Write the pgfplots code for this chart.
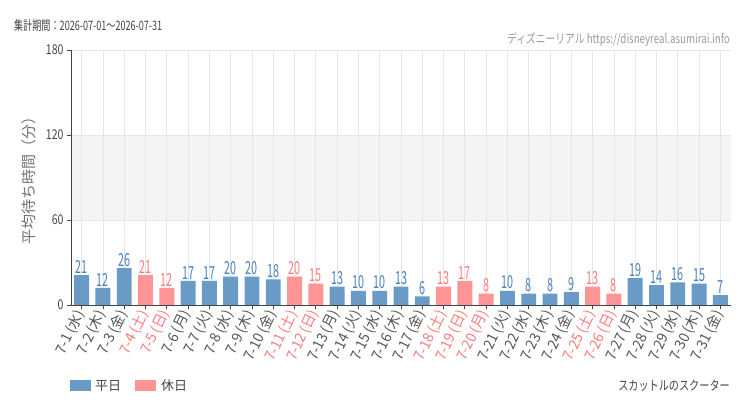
\documentclass[border=0pt]{standalone}
\usepackage{fontspec}
\setmainfont{Noto Sans CJK JP}
\newfontfamily\cond{Noto Sans CJK JP}[FakeStretch=0.78]
\newfontfamily\condh{Noto Sans CJK JP}[FakeStretch=0.70]
\newfontfamily\condx{Noto Sans CJK JP}[FakeStretch=0.95]
\newfontfamily\condv{Noto Sans CJK JP}[FakeStretch=0.60]
\usepackage{pgfplots}
\pgfplotsset{compat=1.18}
\definecolor{wkbar}{HTML}{6A9AC6}
\definecolor{hobar}{HTML}{FF9496}
\definecolor{wktxt}{HTML}{4A80BA}
\definecolor{hotxt}{HTML}{FF7A7A}
\definecolor{gridc}{HTML}{E6E6E6}
\definecolor{bandc}{HTML}{F4F4F4}
\definecolor{txtc}{HTML}{444444}
\definecolor{labc}{HTML}{555555}
\definecolor{lightc}{HTML}{999999}

% weekday and holiday values (x = day index 0..30)
\pgfplotstableread{
x y
0 21
1 12
2 26
5 17
6 17
7 20
8 20
9 18
12 13
13 10
14 10
15 13
16 6
20 10
21 8
22 8
23 9
26 19
27 14
28 16
29 15
30 7
}\weekday
\pgfplotstableread{
x y
3 21
4 12
10 20
11 15
17 13
18 17
19 8
24 13
25 8
}\holiday

\begin{document}
\begin{tikzpicture}[x=1pt,y=1pt]
\begin{axis}[
  set layers,
  at={(71pt,105pt)}, anchor=south west,
  width=660pt, height=255pt, scale only axis,
  xmin=-0.5, xmax=30.5,
  ymin=0, ymax=180,
  ytick={0,60,120,180},
  xtick={0,...,30},
  xticklabels={7-1 (水),7-2 (木),7-3 (金),\textcolor{hotxt}{7-4 (土)},\textcolor{hotxt}{7-5 (日)},7-6 (月),7-7 (火),7-8 (水),7-9 (木),7-10 (金),\textcolor{hotxt}{7-11 (土)},\textcolor{hotxt}{7-12 (日)},7-13 (月),7-14 (火),7-15 (水),7-16 (木),7-17 (金),\textcolor{hotxt}{7-18 (土)},\textcolor{hotxt}{7-19 (日)},\textcolor{hotxt}{7-20 (月)},7-21 (火),7-22 (水),7-23 (木),7-24 (金),\textcolor{hotxt}{7-25 (土)},\textcolor{hotxt}{7-26 (日)},7-27 (月),7-28 (火),7-29 (水),7-30 (木),7-31 (金)},
  xticklabel style={font=\condx\fontsize{14.5}{16}\selectfont, text=labc, rotate=64, anchor=east, inner sep=2.5pt},
  yticklabel style={font=\cond\fontsize{13.5}{15}\selectfont, text=txtc},
  /pgf/number format/assume math mode=true,
  axis x line*=bottom, axis y line*=left,
  axis line style={draw=txtc, line width=0.8pt},
  tick style={draw=txtc, line width=0.8pt},
  tick align=outside, major tick length=4pt,
  grid=major, grid style={draw=gridc, line width=0.8pt},
  ylabel={平均待ち時間（分）},
  ylabel style={font=\fontsize{15}{17}\selectfont, text=lightc!75!black, yshift=3pt},
  clip=false,
]
\addplot[fill=bandc, draw=none, on layer=axis background] coordinates {(-0.5,60) (30.5,60) (30.5,120) (-0.5,120) (-0.5,60)};
\addplot[ybar, bar width=0.7, fill=wkbar, draw=none,
  nodes near coords, nodes near coords style={font=\condv\fontsize{18}{20}\selectfont, text=wktxt, anchor=south, inner sep=1.5pt}] table[x=x,y=y] {\weekday};
\addplot[ybar, bar width=0.7, fill=hobar, draw=none,
  nodes near coords, nodes near coords style={font=\condv\fontsize{18}{20}\selectfont, text=hotxt, anchor=south, inner sep=1.5pt}] table[x=x,y=y] {\holiday};
\end{axis}
\node[anchor=west, text=txtc, font=\condh\fontsize{13}{15}\selectfont, inner sep=0pt] at (14,384) {集計期間：2026-07-01〜2026-07-31};
\node[anchor=east, text=lightc, font=\cond\fontsize{12.5}{14}\selectfont, inner sep=0pt] at (730,370) {ディズニーリアル https://disneyreal.asumirai.info};
\fill[wkbar] (70,19) rectangle (91,30);
\node[anchor=west, text=txtc, font=\fontsize{13}{15}\selectfont, inner sep=0pt] at (95,24.5) {平日};
\fill[hobar] (135,19) rectangle (156,30);
\node[anchor=west, text=txtc, font=\fontsize{13}{15}\selectfont, inner sep=0pt] at (161,24.5) {休日};
\node[anchor=east, text=txtc, font=\cond\fontsize{13}{15}\selectfont, inner sep=0pt] at (730,24.5) {スカットルのスクーター};
\pgfresetboundingbox
\useasboundingbox (0,0) rectangle (750,410);
\end{tikzpicture}
\end{document}
